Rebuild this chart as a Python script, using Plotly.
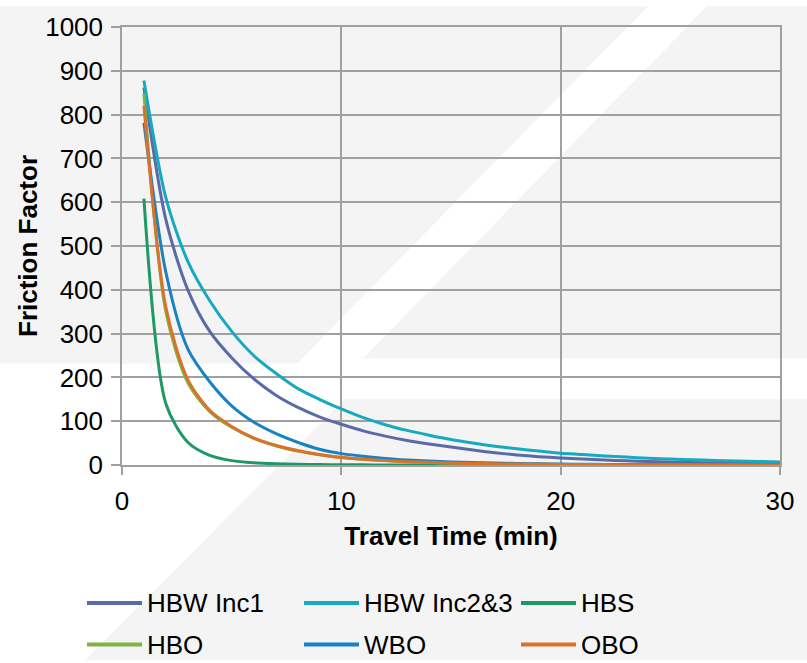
import plotly.graph_objects as go

# Travel time in minutes
travel_time = list(range(1, 31))

# Friction factor curves by trip purpose
hbw_inc1 = [862, 560, 400, 305, 245, 197, 160, 132, 110, 93,
            78, 66, 56, 48, 41, 34, 28, 23, 19, 16,
            13.5, 11.3, 9.5, 8, 6.7, 5.6, 4.7, 4, 3.4, 2.9]
hbw_inc23 = [878, 610, 465, 375, 305, 250, 210, 175, 150, 128,
             108, 92, 79, 68, 58, 50, 43, 37, 32, 27,
             24, 20.5, 18, 15.5, 13.5, 12, 10.5, 9, 8, 7]
hbs = [608, 140, 52, 22, 10, 5, 2.7, 1.5, 0.9, 0.5,
       0.3, 0.2, 0.1, 0.1, 0.1, 0, 0, 0, 0, 0,
       0, 0, 0, 0, 0, 0, 0, 0, 0, 0]
hbo = [848, 350, 188, 122, 86, 61, 44, 32, 23.5, 17,
       13, 10, 7.5, 6, 4.6, 3.6, 2.8, 2.2, 1.7, 1.4,
       1.1, 0.9, 0.7, 0.6, 0.5, 0.4, 0.3, 0.3, 0.2, 0.2]
wbo = [781, 440, 265, 190, 135, 98, 72, 52, 36, 26,
       20, 15, 11.5, 9, 7, 5.5, 4.3, 3.4, 2.7, 2.1,
       1.7, 1.4, 1.1, 0.9, 0.7, 0.6, 0.5, 0.4, 0.3, 0.3]
obo = [820, 360, 195, 125, 88, 62, 45, 33, 24, 17,
       13, 10, 7.5, 6, 4.6, 3.6, 2.8, 2.2, 1.7, 1.4,
       1.1, 0.9, 0.7, 0.6, 0.5, 0.4, 0.3, 0.3, 0.2, 0.2]

series_names = ["HBW Inc1", "HBW Inc2&3", "HBS", "HBO", "WBO", "OBO"]
series_values = [hbw_inc1, hbw_inc23, hbs, hbo, wbo, obo]
series_colors = ["#5b6aa6", "#17a9bf", "#1f9866", "#7db443", "#1b82c1", "#da722b"]

x_ticks = [0, 10, 20, 30]
y_ticks = list(range(0, 1001, 100))

FONT = "Liberation Sans, Arial, sans-serif"
W, H = 807, 663
L, R, T, B = 122, 27, 21, 198
PW, PH = W - L - R, H - T - B


def to_paper(px, py):
    """Convert a page pixel position to paper coordinates."""
    return (px - L) / PW, (H - B - py) / PH


fig = go.Figure()

for name, vals, col in zip(series_names, series_values, series_colors):
    fig.add_trace(go.Scatter(
        x=travel_time, y=vals, name=name, mode="lines",
        line=dict(color=col, width=3, shape="spline", smoothing=0.8),
        showlegend=False,
    ))

# Decorative background bands
band_fill = "#f4f4f4"
polygons = [
    [(0, 0), (648, 0), (297, 362), (0, 362)],
    [(707, 0), (807, 0), (807, 357), (363, 357)],
    [(345, 398), (807, 398), (807, 663), (85, 663)],
]
shapes = []
for poly in polygons:
    pts = [to_paper(px, py) for px, py in poly]
    path = "M " + " L ".join(f"{x:.5f},{y:.5f}" for x, y in pts) + " Z"
    shapes.append(dict(type="path", xref="paper", yref="paper", path=path,
                       fillcolor=band_fill, line=dict(width=0), layer="below"))

# Two-row legend: line swatch followed by label
annotations = []
col_x = [87, 304, 521]
row_y = [605, 647]
for i, (name, col) in enumerate(zip(series_names, series_colors)):
    cx = col_x[i % 3]
    ry = row_y[i // 3]
    x0, y0 = to_paper(cx, ry)
    x1, _ = to_paper(cx + 55, ry)
    shapes.append(dict(type="line", xref="paper", yref="paper",
                       x0=x0, x1=x1, y0=y0, y1=y0,
                       line=dict(color=col, width=4)))
    tx, ty = to_paper(cx + 58, ry)
    annotations.append(dict(xref="paper", yref="paper", x=tx, y=ty,
                            text=name, showarrow=False, xanchor="left",
                            yanchor="middle",
                            font=dict(family=FONT, size=26, color="#000000")))

grid_col = "#a0a0a0"
fig.update_layout(
    width=W, height=H,
    margin=dict(l=L, r=R, t=T, b=B, pad=0),
    paper_bgcolor="#ffffff",
    plot_bgcolor="rgba(0,0,0,0)",
    font=dict(family=FONT, size=26, color="#000000"),
    shapes=shapes,
    annotations=annotations,
    xaxis=dict(
        range=[0, 30], tickvals=x_ticks, ticktext=[str(v) for v in x_ticks],
        showgrid=True, gridcolor=grid_col, gridwidth=1.5,
        showline=True, linecolor=grid_col, linewidth=1.5, mirror=True,
        zeroline=False, ticks="outside", ticklen=8, tickcolor=grid_col,
        tickwidth=1.5, ticklabelstandoff=4,
        title=dict(text="<b>Travel Time (min)</b>", standoff=12,
                   font=dict(family=FONT, size=26, color="#000000")),
    ),
    yaxis=dict(
        range=[0, 1000], tickvals=y_ticks, ticktext=[str(v) for v in y_ticks],
        showgrid=True, gridcolor=grid_col, gridwidth=1.5,
        showline=True, linecolor=grid_col, linewidth=1.5, mirror=True,
        zeroline=False, ticks="outside", ticklen=9, tickcolor=grid_col,
        tickwidth=1.5, ticklabelstandoff=3,
        title=dict(text="<b>Friction Factor</b>", standoff=0,
                   font=dict(family=FONT, size=26, color="#000000")),
    ),
)

fig.write_html("out.html")
